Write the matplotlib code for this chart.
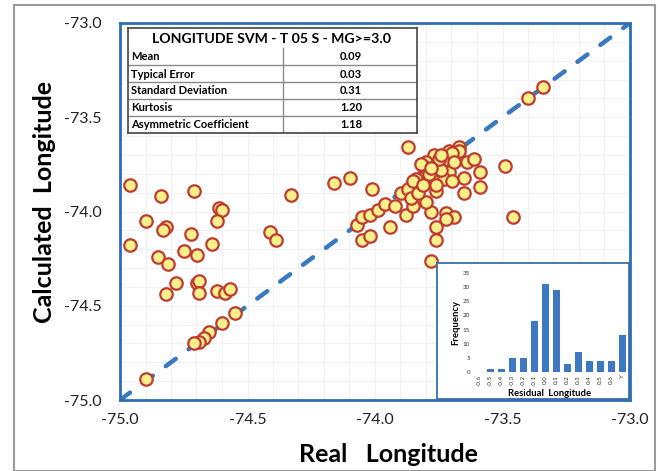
import matplotlib
matplotlib.use('Agg')
import matplotlib.pyplot as plt
import matplotlib.patches as mpatches
import numpy as np

plt.rcParams['font.family'] = ['Lato', 'DejaVu Sans']

# real / calculated longitude pairs
real_lon = [-74.96, -74.84, -74.71, -74.33, -74.90, -74.82, -74.83, -74.61, -74.60, -74.62,
            -74.72, -74.96, -74.64, -74.41, -74.39, -74.75, -74.85, -74.70, -74.81, -74.78,
            -74.70, -74.69, -74.69, -74.82, -74.62, -74.59, -74.57, -74.55, -74.60, -74.65,
            -74.67, -74.69, -74.71, -74.90,
            -73.34, -73.40, -73.87, -74.16, -74.10, -74.01, -73.49, -73.46, -73.78, -73.76,
            -73.76, -73.72, -73.69, -73.72, -74.07, -74.05, -74.05, -74.02, -73.94, -74.02,
            -73.99, -73.96, -73.92, -73.88, -73.85, -73.78, -73.80, -73.90, -73.87, -73.86,
            -73.83, -73.82, -73.84, -73.76, -73.65, -73.59, -73.65, -73.59, -73.64, -73.61,
            -73.67, -73.67, -73.71, -73.72, -73.77, -73.80, -73.76, -73.81, -73.71, -73.77,
            -73.73, -73.70, -73.76, -73.75, -73.70, -73.82, -73.74, -73.85, -73.79, -73.75,
            -73.74, -73.78, -73.81, -73.69]
calc_lon = [-73.86, -73.92, -73.89, -73.91, -74.05, -74.08, -74.10, -73.98, -73.99, -74.05,
            -74.12, -74.18, -74.17, -74.11, -74.15, -74.21, -74.24, -74.23, -74.28, -74.38,
            -74.38, -74.37, -74.43, -74.44, -74.42, -74.43, -74.41, -74.54, -74.59, -74.64,
            -74.67, -74.69, -74.70, -74.89,
            -73.34, -73.40, -73.66, -73.85, -73.82, -73.88, -73.76, -74.03, -74.26, -74.15,
            -74.08, -74.01, -74.03, -74.04, -74.07, -74.03, -74.15, -74.13, -74.08, -74.02,
            -73.99, -73.96, -73.97, -74.02, -73.97, -74.00, -73.95, -73.90, -73.88, -73.93,
            -73.90, -73.82, -73.83, -73.89, -73.90, -73.87, -73.82, -73.79, -73.74, -73.72,
            -73.66, -73.68, -73.68, -73.72, -73.70, -73.74, -73.76, -73.76, -73.79, -73.82,
            -73.83, -73.84, -73.86, -73.78, -73.69, -73.75, -73.78, -73.84, -73.80, -73.72,
            -73.70, -73.77, -73.86, -73.74]

# statistics table
stat_title = 'LONGITUDE SVM - T 05 S - MG>=3.0'
stat_names = ['Mean', 'Typical Error', 'Standard Deviation', 'Kurtosis', 'Asymmetric Coefficient']
stat_values = ['0.09', '0.03', '0.31', '1.20', '1.18']

# residual histogram
bins = ['-0.6', '-0.5', '-0.4', '-0.3', '-0.2', '-0.1', '0.0', '0.1', '0.2', '0.3', '0.4', '0.5', '0.6', 'Y']
freq = [0, 1, 1, 5, 5, 18, 31, 29, 3, 7, 4, 4, 4, 13]

W, H = 658, 471
fig = plt.figure(figsize=(W / 100, H / 100), dpi=100)

def box(x0, y0, x1, y1):
    # pixel box (top-left origin) -> figure fraction rect
    return [x0 / W, 1 - y1 / H, (x1 - x0) / W, (y1 - y0) / H]

# grey outer frame
fig.patches.append(mpatches.Rectangle((14 / W, 0.0), (655 - 14) / W, (470 - 5) / H + 0.003,
                                      transform=fig.transFigure, fill=False,
                                      edgecolor='#9a9a9a', linewidth=1.5))

ax = fig.add_axes(box(120, 23, 630, 400))
ax.set_xlim(-75, -73)
ax.set_ylim(-75, -73)
ax.set_xticks(np.arange(-75, -72.99, 0.5))
ax.set_yticks(np.arange(-75, -72.99, 0.5))
ax.set_xticks(np.arange(-75, -72.99, 0.1), minor=True)
ax.set_yticks(np.arange(-75, -72.99, 0.1), minor=True)
ax.xaxis.set_major_formatter(matplotlib.ticker.FormatStrFormatter('%.1f'))
ax.yaxis.set_major_formatter(matplotlib.ticker.FormatStrFormatter('%.1f'))
ax.grid(True, which='both', color='#f1f1f1', linewidth=0.8)
ax.set_axisbelow(True)
ax.tick_params(which='both', length=0, labelsize=11.5, colors='#222222')
ax.tick_params(axis='y', pad=13)
ax.tick_params(axis='x', pad=9)
for s in ax.spines.values():
    s.set_color('#2f6db3')
    s.set_linewidth(2.0)

ax.plot([-75, -73], [-75, -73], color='#3a78c0', linewidth=3.2,
        dashes=(2.8, 3.6), dash_capstyle='round', zorder=2)
ax.scatter(real_lon, calc_lon, s=80, facecolor='#f8f08a', edgecolor='#c03a30',
           linewidth=1.6, zorder=3)

fig.text(388 / W, 1 - 455 / H, 'Real   Longitude', ha='center', va='center',
         fontsize=18, fontweight='bold')
fig.text(45 / W, 1 - 202 / H, 'Calculated  Longitude', ha='center', va='center',
         rotation=90, fontsize=18, fontweight='bold')

# statistics table
axt = fig.add_axes(box(128, 28, 417, 133))
axt.set_xlim(128, 417)
axt.set_ylim(133, 28)
axt.set_xticks([])
axt.set_yticks([])
axt.set_facecolor('white')
for s in axt.spines.values():
    s.set_color('#444444')
    s.set_linewidth(1.2)
axt.text(272, 39, stat_title, ha='center', va='center', fontsize=10.2, fontweight='bold')
row_y = [57, 74, 91, 108, 125]
for y, name, val in zip(row_y, stat_names, stat_values):
    axt.text(131, y, name, ha='left', va='center', fontsize=8, fontweight='bold')
    axt.text(351, y, val, ha='center', va='center', fontsize=8, fontweight='bold')
for y in [65.5, 82.5, 99.5, 116.5]:
    axt.plot([128, 417], [y, y], color='#8a8a8a', linewidth=1.0)
axt.plot([283, 283], [48, 133], color='#8a8a8a', linewidth=1.0)

# inset histogram frame
axf = fig.add_axes(box(437, 263, 629, 399))
axf.set_xticks([])
axf.set_yticks([])
axf.set_facecolor('white')
for s in axf.spines.values():
    s.set_color('#3a6ea8')
    s.set_linewidth(1.3)

axh = fig.add_axes(box(473, 273, 627, 372))
axh.set_facecolor('none')
xpos = np.arange(len(bins))
axh.bar(xpos, freq, width=0.65, color='#3d78c0')
axh.set_xlim(-0.55, 13.4)
axh.set_ylim(0, 35)
axh.set_yticks(range(0, 36, 5))
axh.set_xticks(xpos)
axh.set_xticklabels(bins, rotation=90)
axh.tick_params(length=0, labelsize=4.5, colors='#333333', pad=2)
for s in axh.spines.values():
    s.set_visible(False)
axh.set_xlabel('Residual  Longitude', fontsize=6.8, fontweight='bold', labelpad=2)
axh.set_ylabel('Frequency', fontsize=6.8, fontweight='bold', labelpad=2)

fig.savefig('out.png', dpi=100)
